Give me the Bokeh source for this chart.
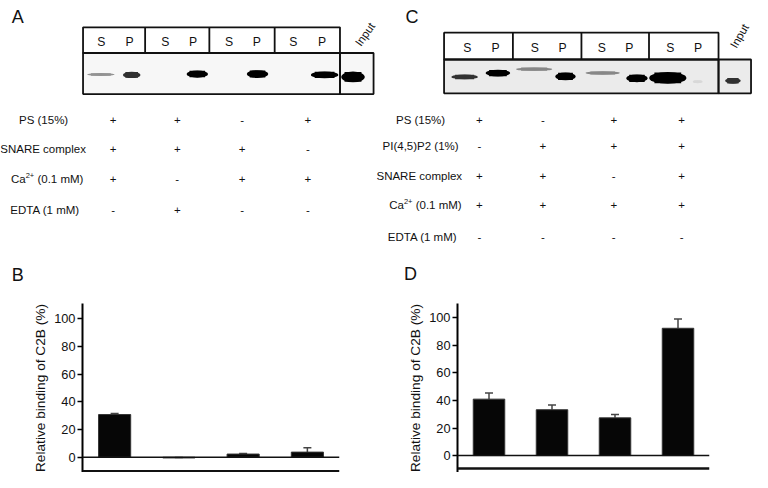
from bokeh.plotting import figure
from bokeh.layouts import column, row
from bokeh.models import Range1d, Span, Whisker, ColumnDataSource, FixedTicker
from bokeh.core.properties import value
from bokeh.embed import file_html
from bokeh.resources import INLINE

FONT = "Liberation Sans"

# ------------------------------------------------------------------ data
lane_labels = ["S", "P", "S", "P", "S", "P", "S", "P"]

a_conditions = ["PS (15%)", "SNARE complex", "Ca2+ (0.1 mM)", "EDTA (1 mM)"]
a_marks = [["+", "+", "-", "+"],
           ["+", "+", "+", "-"],
           ["+", "-", "+", "+"],
           ["-", "+", "-", "-"]]

c_conditions = ["PS (15%)", "PI(4,5)P2 (1%)", "SNARE complex", "Ca2+ (0.1 mM)", "EDTA (1 mM)"]
c_marks = [["+", "-", "+", "+"],
           ["-", "+", "+", "+"],
           ["+", "+", "-", "+"],
           ["+", "+", "+", "+"],
           ["-", "-", "-", "-"]]

# band darkness per lane (0 = no band, 1 = black), last entry = input lane
a_band_intensity = [0.40, 0.80, 0.0, 1.0, 0.0, 1.0, 0.0, 1.0, 1.0]
c_band_intensity = [0.80, 1.0, 0.45, 1.0, 0.45, 1.0, 1.0, 0.12, 0.80]

conditions_x = [1, 2, 3, 4]
b_binding = [30.8, -0.5, 2.3, 3.7]
b_error = [0.7, 0.3, 0.4, 3.2]
d_binding = [41.0, 33.3, 27.4, 92.5]
d_error = [4.4, 3.5, 2.4, 6.8]
y_ticks = [0, 20, 40, 60, 80, 100]
y_title = "Relative binding of C2B (%)"

# ------------------------------------------------------------------ layout constants
W, H_TOP, H_BOT = 376, 290, 182
SX = W / 384.0
SY = 472.0 / 488.0
TOP_SPAN = H_TOP / SY


def gray(i):
    g = int(round(245 * (1 - i)))
    return "#%02x%02x%02x" % (g, g, g)


def top_fig(x0):
    p = figure(width=W, height=H_TOP, x_range=Range1d(x0, x0 + 384), y_range=Range1d(TOP_SPAN, 0),
               x_axis_type=None, y_axis_type=None, output_backend="svg", toolbar_location=None,
               min_border_left=0, min_border_right=0, min_border_top=0, min_border_bottom=0)
    p.grid.visible = False
    p.outline_line_color = None
    return p


def txt(p, x, y, s, size, align="center", baseline="middle", angle=0, color="#111111"):
    p.text(x=[x], y=[y], text=[s], text_font=value(FONT), text_font_size=size,
           text_align=align, text_baseline=baseline, angle=angle, angle_units="deg",
           text_color=color)


def gel_panel(p, letter, letter_xy, box, dividers, input_box, gel_bg, lab_x, lab_y,
              bands, intensity, input_text_xy, input_angle):
    txt(p, letter_xy[0], letter_xy[1], letter, "18px", align="left", baseline="alphabetic")
    l, r, t, m, b = box
    # gel background
    p.quad(left=[l, input_box[0]], right=[r, input_box[1]], top=[m, m], bottom=[b, b],
           fill_color=gel_bg, line_color=None)
    # bands (capsule shapes: ellipse + central block)
    xs, ys, ws, hs, cs = [], [], [], [], []
    for (bx, by, bw, bh), it in zip(bands, intensity):
        if it <= 0:
            continue
        xs.append(bx); ys.append(by); ws.append(bw); hs.append(bh); cs.append(gray(it))
    p.ellipse(x=xs, y=ys, width=ws, height=hs, fill_color=cs, line_color=None)
    p.rect(x=xs, y=ys, width=[w * 0.72 for w in ws], height=[h * 0.92 for h in hs],
           fill_color=cs, line_color=None)
    # boxes
    p.quad(left=[l, l, input_box[0]], right=[r, r, input_box[1]], top=[t, m, m],
           bottom=[m, b, b], fill_color=None, line_color="#111111", line_width=1.8)
    p.segment(x0=dividers, x1=dividers, y0=[t] * len(dividers), y1=[m] * len(dividers),
              line_color="#111111", line_width=1.8)
    for x, s in zip(lab_x, lane_labels):
        txt(p, x, lab_y, s, "12.2px")
    txt(p, input_text_xy[0], input_text_xy[1], "Input", "11.5px", angle=input_angle)


def cond_table(p, conditions, marks, label_pos, mark_x, row_y):
    for i, (cond, lx) in enumerate(zip(conditions, label_pos)):
        y = row_y[i]
        if cond.startswith("Ca2+"):
            fs = 11.5
            w_ca = 1.278 * fs / SX
            w_sup = (1.14 * 7.5 + 0.278 * fs) / SX
            txt(p, lx, y, "Ca", "11.5px", align="left")
            txt(p, lx + w_ca, y - 3.8, "2+", "7.5px", align="left")
            txt(p, lx + w_ca + w_sup, y, cond[5:], "11.5px", align="left")
        else:
            txt(p, lx, y, cond, "11.5px")
        for x, mk in zip(mark_x, marks[i]):
            txt(p, x, y, mk, "11.5px")


# ---------------- panel A
pa = top_fig(0)
gel_panel(pa, "A", (11.5, 17), (84.3, 346.7, 27.7, 54.3, 96.7), [147.7, 213.3, 280.0],
          (346.7, 381.0), "#f7f7f7",
          [103, 131.7, 168.3, 196.7, 233.3, 261.7, 299, 328.3], 42.7,
          [(102.5, 76.5, 28, 3.0), (134, 77, 18, 6.5), (168, 76, 20, 3), (201, 76, 22, 7.5),
           (233, 76, 20, 3), (262.5, 76, 22, 8), (299, 76, 20, 3), (331, 77, 28, 7),
           (360, 79, 24, 11)],
          a_band_intensity, (372.3, 35), 55)
cond_table(pa, a_conditions, a_marks, [44, 43.5, 10.7, 45.5],
           [115, 180.5, 246.7, 314], [123.3, 153.3, 184.3, 216.7])
txt(pa, 11.5, 283.3, "B", "18px", align="left", baseline="alphabetic")

# ---------------- panel C
pc = top_fig(384)
gel_panel(pc, "C", (413.5, 17), (453.0, 733.3, 33.3, 61.0, 96.0), [523.3, 593.3, 662.3],
          (733.3, 766.5), "#ebebeb",
          [476.7, 505.7, 545.7, 574, 614, 642.3, 684, 712.3], 49.3,
          [(474, 79, 27, 5), (508, 75, 25, 7), (545, 71, 37, 3.5), (577, 78.5, 21, 8),
           (615, 75, 35, 3.5), (650, 80.5, 22, 8), (681.5, 80, 38, 12), (712, 84, 10, 3),
           (748, 83, 16, 6)],
          c_band_intensity, (754.7, 36.7), 60)
cond_table(pc, c_conditions, c_marks, [429, 429, 427.7, 397, 431],
           [489, 554, 626.3, 695.7], [123.3, 150, 181, 211.7, 244])
txt(pc, 412, 283, "D", "18px", align="left", baseline="alphabetic")


# ---------------- bar charts
def bar_fig(vals, errs, ylo, yhi, base_line, bl, br, bt):
    p = figure(width=W, height=H_BOT, x_range=Range1d(0.5, 4.5), y_range=Range1d(ylo, yhi),
               x_axis_type=None, output_backend="svg", toolbar_location=None,
               min_border_left=bl, min_border_right=br, min_border_top=bt, min_border_bottom=0)
    p.grid.visible = False
    p.outline_line_color = None
    src = ColumnDataSource(dict(x=conditions_x, top=vals,
                                upper=[v + e for v, e in zip(vals, errs)]))
    p.vbar(x="x", top="top", bottom=0, width=0.5, source=src,
           fill_color="#060606", line_color="#333333", line_width=1)
    wk = Whisker(base="x", lower="top", upper="upper", source=src, dimension="height",
                 line_color="#444444", line_width=1.5, lower_head=None)
    wk.upper_head.size = 8
    wk.upper_head.line_color = "#444444"
    wk.upper_head.line_width = 1.5
    p.add_layout(wk)
    p.add_layout(Span(location=0, dimension="width", line_color="#111111", line_width=1.6))
    p.add_layout(Span(location=base_line, dimension="width", line_color="#111111", line_width=2.6))

    ya = p.yaxis[0]
    ya.ticker = FixedTicker(ticks=y_ticks)
    ya.minor_tick_line_color = None
    ya.major_tick_in = 0
    ya.major_tick_out = 5
    ya.major_tick_line_width = 1.5
    ya.axis_line_width = 2
    ya.major_label_text_font = FONT
    ya.major_label_text_font_size = "12.8px"
    ya.major_label_text_color = "#111111"
    ya.major_label_standoff = 2
    ya.axis_label = y_title
    ya.axis_label_text_font = FONT
    ya.axis_label_text_font_size = "13.7px"
    ya.axis_label_text_font_style = "normal"
    ya.axis_label_text_color = "#111111"
    ya.axis_label_standoff = 3
    return p


pb = bar_fig(b_binding, b_error, -11.0, 110.9, -10.2, 82, 37, 12)
pd = bar_fig(d_binding, d_error, -12.3, 110.5, -9.34, 81, 43, 13)

layout = column(row(pa, pc), row(pb, pd))
open("out.html", "w").write(file_html(layout, INLINE))
